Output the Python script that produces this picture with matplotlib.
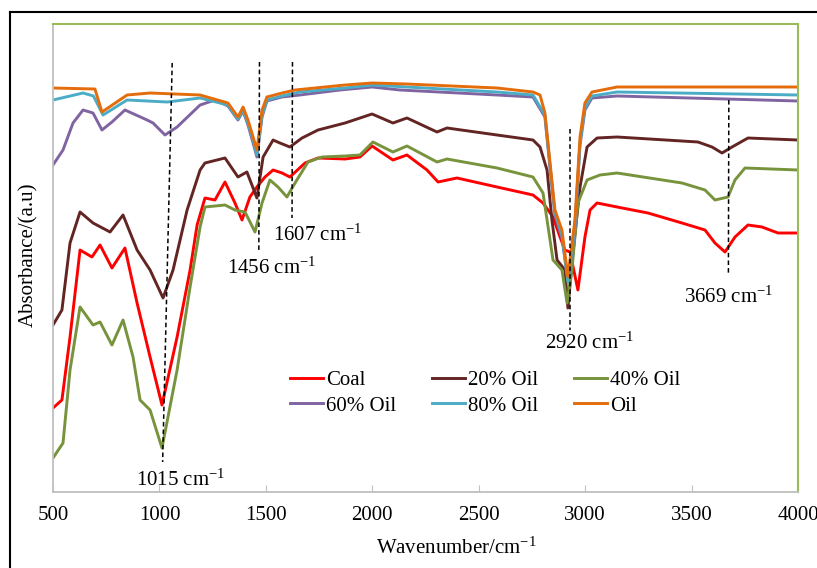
"""
FTIR spectra of coal / oil blends.
"""
import matplotlib
matplotlib.use("Agg")
import matplotlib.pyplot as plt
from matplotlib.lines import Line2D

plt.rcParams["font.family"] = ["Liberation Serif", "DejaVu Serif"]
plt.rcParams["mathtext.fontset"] = "custom"
plt.rcParams["mathtext.rm"] = "Liberation Serif"
plt.rcParams["mathtext.it"] = "Liberation Serif:italic"

# ---- data (wavenumber cm-1, absorbance a.u.) ----
coal_x = [500, 542, 580, 627, 683, 721, 777, 838, 895, 956, 1012, 1083, 1144, 1177,
          1214, 1261, 1308, 1355, 1388, 1425, 1458, 1496, 1534, 1576, 1613, 1684,
          1745, 1872, 1942, 1999, 2097, 2163, 2257, 2309, 2398, 2586, 2755, 2802,
          2849, 2882, 2905, 2929, 2966, 2999, 3023, 3056, 3150, 3295, 3455, 3563,
          3610, 3657, 3704, 3765, 3831, 3906, 4000]
coal_y = [0.84, 0.92, 1.55, 2.42, 2.35, 2.47, 2.24, 2.44, 1.89, 1.35, 0.87, 1.55, 2.22,
          2.67, 2.94, 2.92, 3.10, 2.89, 2.72, 2.95, 3.05, 3.15, 3.22, 3.19, 3.15, 3.29,
          3.34, 3.33, 3.35, 3.46, 3.32, 3.37, 3.22, 3.10, 3.14, 3.05, 2.97, 2.89, 2.75,
          2.55, 2.42, 2.40, 2.02, 2.55, 2.82, 2.89, 2.85, 2.79, 2.69, 2.62, 2.49, 2.40,
          2.55, 2.67, 2.65, 2.59, 2.59]

oil20_x = [500, 542, 580, 627, 688, 768, 829, 895, 956, 1017, 1064, 1130, 1191, 1214,
           1308, 1369, 1411, 1458, 1487, 1534, 1566, 1613, 1670, 1745, 1872, 1999,
           2097, 2163, 2304, 2351, 2586, 2755, 2788, 2821, 2844, 2868, 2905, 2919,
           2943, 2976, 3009, 3056, 3150, 3530, 3596, 3643, 3690, 3765, 4000]
oil20_y = [1.67, 1.82, 2.49, 2.80, 2.69, 2.60, 2.77, 2.42, 2.22, 1.94, 2.22, 2.82, 3.22,
           3.29, 3.34, 3.15, 3.20, 2.94, 3.35, 3.52, 3.49, 3.45, 3.54, 3.62, 3.69, 3.78,
           3.69, 3.74, 3.60, 3.64, 3.57, 3.52, 3.45, 3.22, 2.72, 2.32, 2.22, 1.84, 2.39,
           3.05, 3.45, 3.54, 3.55, 3.50, 3.45, 3.39, 3.45, 3.54, 3.52]

oil40_x = [500, 547, 580, 627, 688, 721, 777, 829, 876, 909, 956, 1012, 1083, 1144,
           1191, 1214, 1308, 1355, 1402, 1449, 1482, 1519, 1557, 1599, 1637, 1698,
           1764, 1872, 1942, 2003, 2097, 2163, 2304, 2351, 2586, 2755, 2802, 2826,
           2849, 2891, 2915, 2938, 2966, 3009, 3070, 3150, 3455, 3563, 3610, 3671,
           3704, 3751, 4000]
oil40_y = [0.34, 0.49, 1.22, 1.85, 1.67, 1.70, 1.47, 1.72, 1.35, 0.92, 0.82, 0.44, 1.22,
           2.05, 2.65, 2.85, 2.87, 2.82, 2.80, 2.60, 2.89, 3.12, 3.05, 2.95, 3.09, 3.30,
           3.35, 3.36, 3.37, 3.50, 3.40, 3.46, 3.30, 3.33, 3.24, 3.15, 2.99, 2.65, 2.32,
           2.22, 1.89, 2.22, 2.89, 3.12, 3.17, 3.19, 3.09, 3.02, 2.92, 2.95, 3.12, 3.24,
           3.22]

oil60_x = [500, 547, 594, 641, 688, 730, 777, 838, 942, 970, 1026, 1083, 1191, 1261,
           1322, 1369, 1393, 1416, 1440, 1458, 1482, 1505, 1576, 1660, 1848, 1999,
           2130, 2586, 2755, 2811, 2835, 2858, 2891, 2919, 2952, 2976, 2999, 3032,
           3150, 4000]
oil60_y = [3.27, 3.42, 3.69, 3.82, 3.79, 3.62, 3.70, 3.82, 3.72, 3.69, 3.57, 3.65, 3.87,
           3.92, 3.86, 3.72, 3.81, 3.67, 3.49, 3.35, 3.75, 3.91, 3.95, 3.97, 4.02, 4.05,
           4.02, 3.97, 3.95, 3.75, 3.24, 2.77, 2.54, 2.12, 2.64, 3.47, 3.82, 3.94, 3.96,
           3.91]

oil80_x = [500, 641, 690, 735, 848, 1036, 1191, 1322, 1369, 1393, 1416, 1440, 1458,
           1482, 1505, 1576, 1660, 1872, 1999, 2163, 2586, 2755, 2811, 2835, 2858,
           2891, 2919, 2952, 2976, 2999, 3032, 3150, 4000]
oil80_y = [3.92, 3.99, 3.96, 3.77, 3.92, 3.90, 3.94, 3.87, 3.73, 3.82, 3.69, 3.52, 3.37,
           3.77, 3.92, 3.96, 4.00, 4.04, 4.07, 4.05, 4.00, 3.97, 3.77, 3.27, 2.80, 2.57,
           2.10, 2.67, 3.50, 3.84, 3.96, 4.00, 3.97]

oil_x = [500, 697, 730, 848, 956, 1191, 1322, 1369, 1393, 1416, 1440, 1458, 1482, 1505,
         1576, 1637, 1872, 1999, 2163, 2586, 2755, 2788, 2811, 2835, 2858, 2891, 2919,
         2952, 2976, 2999, 3032, 3150, 3540, 4000]
oil_y = [4.04, 4.03, 3.80, 3.97, 3.99, 3.97, 3.89, 3.75, 3.85, 3.72, 3.55, 3.42, 3.82,
         3.95, 3.99, 4.02, 4.07, 4.09, 4.08, 4.04, 4.00, 3.97, 3.79, 3.29, 2.82, 2.62,
         2.15, 2.72, 3.55, 3.89, 4.00, 4.05, 4.05, 4.05]

names = ["Coal", "20% Oil", "40% Oil", "60% Oil", "80% Oil", "Oil"]
series_x = [coal_x, oil20_x, oil40_x, oil60_x, oil80_x, oil_x]
series_y = [coal_y, oil20_y, oil40_y, oil60_y, oil80_y, oil_y]
COLORS = ["#FF0000", "#632523", "#77933C", "#8064A2", "#4BACC6", "#E46C0A"]

# peak markers: label, top (x, y), bottom (x, y), text position
peak_labels = ["1015", "1456", "1607", "2920", "3669"]
peak_top = [(1060, 4.29), (1470, 4.30), (1625, 4.30), (2928, 3.63), (3675, 3.92)]
peak_bot = [(1015, 0.30), (1467, 2.42), (1623, 2.74), (2928, 1.62), (3673, 2.17)]
peak_txt = [(1101, 0.12), (1529, 2.24), (1745, 2.57), (3023, 1.49), (3676, 1.95)]

fig = plt.figure(figsize=(8.17, 5.68), dpi=100)
ax = fig.add_axes([53/817, 76/568, 745/817, 468/568])

for x, y, name, c in zip(series_x, series_y, names, COLORS):
    ax.plot(x, y, color=c, lw=2.1, label=name, solid_joinstyle="round")

for lab, (x0, y0), (x1, y1), (tx, ty) in zip(peak_labels, peak_top, peak_bot, peak_txt):
    ax.plot([x0, x1], [y0, y1], color="black", lw=1.1, ls=(0, (3, 2)))
    ax.text(tx, ty, f"{lab} cm$^{{-1}}$", ha="center", va="center", fontsize=15)

ax.set_xlim(500, 4000)
ax.set_ylim(0, 4.68)
ax.set_xticks(range(500, 4001, 500))
ax.set_yticks([])
ax.tick_params(axis="x", direction="in", length=5, color="#BFBFBF",
               labelsize=15, pad=10)
for s in ["left", "bottom"]:
    ax.spines[s].set_color("#BFBFBF"); ax.spines[s].set_linewidth(1.3)
for s in ["top", "right"]:
    ax.spines[s].set_color("#9BBB59"); ax.spines[s].set_linewidth(1.5)

ax.set_xlabel("Wavenumber/cm$^{-1}$", fontsize=15)
ax.xaxis.set_label_coords(0.541, -0.098)
ax.set_ylabel("Absorbance/(a.u)", fontsize=15)
ax.yaxis.set_label_coords(-0.020, 0.506)

# legend filled column-wise -> reorder so rows read Coal/20/40, 60/80/Oil
h, l = ax.get_legend_handles_labels()
order = [0, 3, 1, 4, 2, 5]
ax.legend([h[i] for i in order], [l[i] for i in order], ncol=3, frameon=False,
          prop={"family": "Liberation Serif", "size": 15},
          loc="center", bbox_to_anchor=(0.580, 0.2115),
          handlelength=1.55, handletextpad=0.15, columnspacing=1.75,
          labelspacing=0.3)

# outer black frame
fig.add_artist(Line2D([10/817, 10/817], [0, 1 - 12/568], color="black", lw=1.5,
                      transform=fig.transFigure))
fig.add_artist(Line2D([10/817, 1], [1 - 12/568, 1 - 12/568], color="black", lw=1.5,
                      transform=fig.transFigure))

fig.savefig("out.png", dpi=100)
plt.close(fig)
